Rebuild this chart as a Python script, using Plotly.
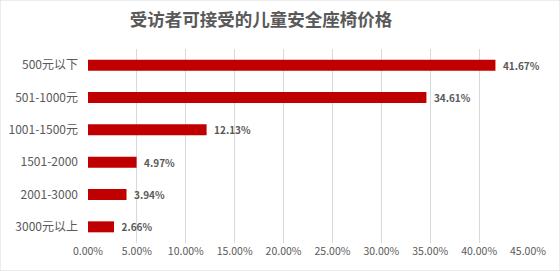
import plotly.graph_objects as go

categories = ["500元以下", "501-1000元", "1001-1500元", "1501-2000", "2001-3000", "3000元以上"]
values = [0.4167, 0.3461, 0.1213, 0.0497, 0.0394, 0.0266]
tick_vals = [0, 0.05, 0.10, 0.15, 0.20, 0.25, 0.30, 0.35, 0.40, 0.45]

font_family = "Noto Sans CJK SC, Noto Sans, sans-serif"
gray = "#595959"

fig = go.Figure(
    go.Bar(
        y=categories,
        x=values,
        orientation="h",
        marker=dict(color="#C00000", line=dict(width=0)),
        text=[f"\u00a0\u00a0<b>{v*100:.2f}%</b>" for v in values],
        textposition="outside",
        constraintext="none",
        textfont=dict(family=font_family, size=10, color=gray),
        cliponaxis=False,
    )
)

fig.update_layout(
    width=560,
    height=271,
    margin=dict(l=88, r=32, t=49, b=28, autoexpand=False),
    paper_bgcolor="white",
    plot_bgcolor="white",
    bargap=0.66,
    showlegend=False,
    title=dict(
        text="<b>受访者可接受的儿童安全座椅价格</b>",
        x=261/560,
        xref="container",
        xanchor="center",
        y=0.925,
        yanchor="middle",
        font=dict(family=font_family, size=17.5, color=gray),
    ),
    xaxis=dict(
        range=[0, 0.45],
        tickvals=tick_vals,
        tickformat=".2%",
        showgrid=True,
        gridcolor="#D9D9D9",
        gridwidth=1,
        zeroline=False,
        showline=False,
        automargin=False,
        tickfont=dict(family=font_family, size=10.5, color=gray),
        ticks="",
    ),
    yaxis=dict(
        categoryorder="array",
        categoryarray=categories,
        autorange="reversed",
        showgrid=False,
        zeroline=False,
        showline=False,
        automargin=False,
        ticks="",
        ticklabelstandoff=9,
        tickfont=dict(family=font_family, size=12, color=gray),
    ),
    shapes=[
        dict(type="rect", xref="paper", yref="paper", x0=-88/440, x1=1+32/440, y0=-28/194, y1=1+49/194,
             line=dict(color="#D9D9D9", width=1), fillcolor="rgba(0,0,0,0)")
    ],
)

fig.write_html("out.html")
